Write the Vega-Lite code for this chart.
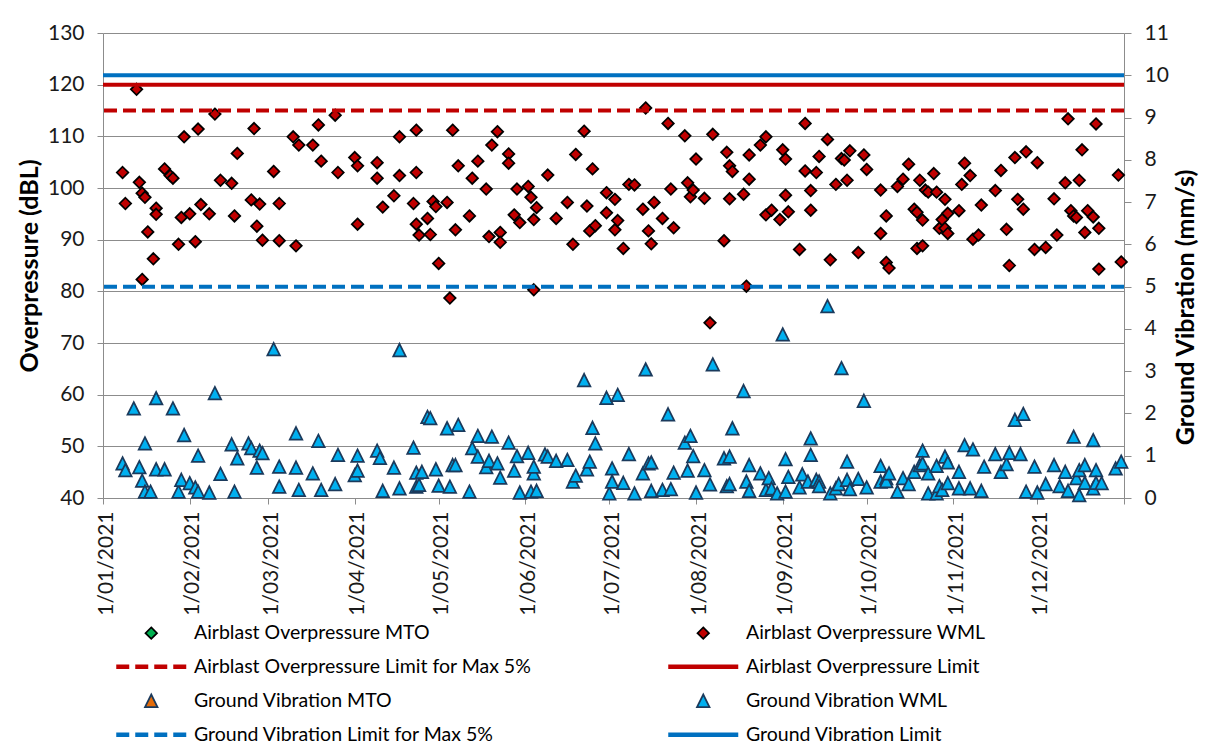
{
 "$schema": "https://vega.github.io/schema/vega-lite/v6.json",
 "width": 1021, "height": 465,
 "autosize": {"type": "none"},
 "padding": {"left": 103, "top": 33, "right": 81, "bottom": 248},
 "background": "white",
 "datasets": {
  "ao": [
   {"date":"2021-01-08","series":"Airblast Overpressure WML","value":103.0},
   {"date":"2021-01-09","series":"Airblast Overpressure WML","value":97.0},
   {"date":"2021-01-13","series":"Airblast Overpressure WML","value":119.1},
   {"date":"2021-01-14","series":"Airblast Overpressure WML","value":101.1},
   {"date":"2021-01-15","series":"Airblast Overpressure WML","value":82.3},
   {"date":"2021-01-15","series":"Airblast Overpressure WML","value":99.0},
   {"date":"2021-01-16","series":"Airblast Overpressure WML","value":98.2},
   {"date":"2021-01-17","series":"Airblast Overpressure WML","value":91.5},
   {"date":"2021-01-19","series":"Airblast Overpressure WML","value":86.3},
   {"date":"2021-01-20","series":"Airblast Overpressure WML","value":96.1},
   {"date":"2021-01-20","series":"Airblast Overpressure WML","value":94.9},
   {"date":"2021-01-23","series":"Airblast Overpressure WML","value":103.7},
   {"date":"2021-01-25","series":"Airblast Overpressure WML","value":102.4},
   {"date":"2021-01-26","series":"Airblast Overpressure WML","value":101.9},
   {"date":"2021-01-28","series":"Airblast Overpressure WML","value":89.1},
   {"date":"2021-01-29","series":"Airblast Overpressure WML","value":94.3},
   {"date":"2021-01-30","series":"Airblast Overpressure WML","value":109.9},
   {"date":"2021-02-01","series":"Airblast Overpressure WML","value":95.0},
   {"date":"2021-02-03","series":"Airblast Overpressure WML","value":89.6},
   {"date":"2021-02-04","series":"Airblast Overpressure WML","value":111.4},
   {"date":"2021-02-05","series":"Airblast Overpressure WML","value":96.8},
   {"date":"2021-02-08","series":"Airblast Overpressure WML","value":95.0},
   {"date":"2021-02-10","series":"Airblast Overpressure WML","value":114.3},
   {"date":"2021-02-12","series":"Airblast Overpressure WML","value":101.5},
   {"date":"2021-02-16","series":"Airblast Overpressure WML","value":100.9},
   {"date":"2021-02-17","series":"Airblast Overpressure WML","value":94.6},
   {"date":"2021-02-18","series":"Airblast Overpressure WML","value":106.7},
   {"date":"2021-02-23","series":"Airblast Overpressure WML","value":97.7},
   {"date":"2021-02-24","series":"Airblast Overpressure WML","value":111.5},
   {"date":"2021-02-25","series":"Airblast Overpressure WML","value":92.6},
   {"date":"2021-02-26","series":"Airblast Overpressure WML","value":96.9},
   {"date":"2021-02-27","series":"Airblast Overpressure WML","value":89.9},
   {"date":"2021-03-03","series":"Airblast Overpressure WML","value":103.2},
   {"date":"2021-03-05","series":"Airblast Overpressure WML","value":97.0},
   {"date":"2021-03-05","series":"Airblast Overpressure WML","value":89.8},
   {"date":"2021-03-10","series":"Airblast Overpressure WML","value":109.9},
   {"date":"2021-03-11","series":"Airblast Overpressure WML","value":88.8},
   {"date":"2021-03-12","series":"Airblast Overpressure WML","value":108.3},
   {"date":"2021-03-17","series":"Airblast Overpressure WML","value":108.3},
   {"date":"2021-03-19","series":"Airblast Overpressure WML","value":112.2},
   {"date":"2021-03-20","series":"Airblast Overpressure WML","value":105.2},
   {"date":"2021-03-25","series":"Airblast Overpressure WML","value":114.1},
   {"date":"2021-03-26","series":"Airblast Overpressure WML","value":103.0},
   {"date":"2021-04-01","series":"Airblast Overpressure WML","value":105.9},
   {"date":"2021-04-02","series":"Airblast Overpressure WML","value":104.3},
   {"date":"2021-04-02","series":"Airblast Overpressure WML","value":93.0},
   {"date":"2021-04-09","series":"Airblast Overpressure WML","value":104.9},
   {"date":"2021-04-09","series":"Airblast Overpressure WML","value":101.9},
   {"date":"2021-04-11","series":"Airblast Overpressure WML","value":96.3},
   {"date":"2021-04-15","series":"Airblast Overpressure WML","value":98.5},
   {"date":"2021-04-17","series":"Airblast Overpressure WML","value":109.9},
   {"date":"2021-04-17","series":"Airblast Overpressure WML","value":102.4},
   {"date":"2021-04-22","series":"Airblast Overpressure WML","value":97.0},
   {"date":"2021-04-23","series":"Airblast Overpressure WML","value":103.0},
   {"date":"2021-04-23","series":"Airblast Overpressure WML","value":111.2},
   {"date":"2021-04-23","series":"Airblast Overpressure WML","value":93.0},
   {"date":"2021-04-24","series":"Airblast Overpressure WML","value":90.9},
   {"date":"2021-04-27","series":"Airblast Overpressure WML","value":94.1},
   {"date":"2021-04-28","series":"Airblast Overpressure WML","value":91.0},
   {"date":"2021-04-29","series":"Airblast Overpressure WML","value":97.4},
   {"date":"2021-04-30","series":"Airblast Overpressure WML","value":96.4},
   {"date":"2021-05-01","series":"Airblast Overpressure WML","value":85.4},
   {"date":"2021-05-04","series":"Airblast Overpressure WML","value":97.2},
   {"date":"2021-05-05","series":"Airblast Overpressure WML","value":78.7},
   {"date":"2021-05-06","series":"Airblast Overpressure WML","value":111.2},
   {"date":"2021-05-07","series":"Airblast Overpressure WML","value":91.9},
   {"date":"2021-05-08","series":"Airblast Overpressure WML","value":104.3},
   {"date":"2021-05-12","series":"Airblast Overpressure WML","value":94.6},
   {"date":"2021-05-13","series":"Airblast Overpressure WML","value":101.9},
   {"date":"2021-05-15","series":"Airblast Overpressure WML","value":105.2},
   {"date":"2021-05-18","series":"Airblast Overpressure WML","value":99.8},
   {"date":"2021-05-19","series":"Airblast Overpressure WML","value":90.6},
   {"date":"2021-05-20","series":"Airblast Overpressure WML","value":108.3},
   {"date":"2021-05-22","series":"Airblast Overpressure WML","value":110.9},
   {"date":"2021-05-23","series":"Airblast Overpressure WML","value":91.4},
   {"date":"2021-05-23","series":"Airblast Overpressure WML","value":89.5},
   {"date":"2021-05-26","series":"Airblast Overpressure WML","value":106.6},
   {"date":"2021-05-26","series":"Airblast Overpressure WML","value":104.8},
   {"date":"2021-05-28","series":"Airblast Overpressure WML","value":94.8},
   {"date":"2021-05-29","series":"Airblast Overpressure WML","value":99.8},
   {"date":"2021-05-30","series":"Airblast Overpressure WML","value":93.3},
   {"date":"2021-06-02","series":"Airblast Overpressure WML","value":100.3},
   {"date":"2021-06-03","series":"Airblast Overpressure WML","value":98.2},
   {"date":"2021-06-04","series":"Airblast Overpressure WML","value":93.9},
   {"date":"2021-06-04","series":"Airblast Overpressure WML","value":80.3},
   {"date":"2021-06-05","series":"Airblast Overpressure WML","value":96.2},
   {"date":"2021-06-09","series":"Airblast Overpressure WML","value":102.5},
   {"date":"2021-06-12","series":"Airblast Overpressure WML","value":94.1},
   {"date":"2021-06-16","series":"Airblast Overpressure WML","value":97.2},
   {"date":"2021-06-18","series":"Airblast Overpressure WML","value":89.1},
   {"date":"2021-06-19","series":"Airblast Overpressure WML","value":106.5},
   {"date":"2021-06-22","series":"Airblast Overpressure WML","value":111.0},
   {"date":"2021-06-23","series":"Airblast Overpressure WML","value":96.5},
   {"date":"2021-06-24","series":"Airblast Overpressure WML","value":91.7},
   {"date":"2021-06-25","series":"Airblast Overpressure WML","value":103.7},
   {"date":"2021-06-26","series":"Airblast Overpressure WML","value":92.7},
   {"date":"2021-06-30","series":"Airblast Overpressure WML","value":95.2},
   {"date":"2021-06-30","series":"Airblast Overpressure WML","value":99.1},
   {"date":"2021-07-03","series":"Airblast Overpressure WML","value":97.8},
   {"date":"2021-07-03","series":"Airblast Overpressure WML","value":91.9},
   {"date":"2021-07-04","series":"Airblast Overpressure WML","value":93.7},
   {"date":"2021-07-06","series":"Airblast Overpressure WML","value":88.3},
   {"date":"2021-07-08","series":"Airblast Overpressure WML","value":100.7},
   {"date":"2021-07-10","series":"Airblast Overpressure WML","value":100.6},
   {"date":"2021-07-13","series":"Airblast Overpressure WML","value":95.9},
   {"date":"2021-07-14","series":"Airblast Overpressure WML","value":115.5},
   {"date":"2021-07-15","series":"Airblast Overpressure WML","value":91.7},
   {"date":"2021-07-16","series":"Airblast Overpressure WML","value":89.2},
   {"date":"2021-07-17","series":"Airblast Overpressure WML","value":97.2},
   {"date":"2021-07-20","series":"Airblast Overpressure WML","value":94.1},
   {"date":"2021-07-22","series":"Airblast Overpressure WML","value":112.5},
   {"date":"2021-07-23","series":"Airblast Overpressure WML","value":99.8},
   {"date":"2021-07-24","series":"Airblast Overpressure WML","value":92.3},
   {"date":"2021-07-28","series":"Airblast Overpressure WML","value":110.1},
   {"date":"2021-07-29","series":"Airblast Overpressure WML","value":101.0},
   {"date":"2021-07-30","series":"Airblast Overpressure WML","value":98.3},
   {"date":"2021-07-31","series":"Airblast Overpressure WML","value":99.6},
   {"date":"2021-08-01","series":"Airblast Overpressure WML","value":105.6},
   {"date":"2021-08-04","series":"Airblast Overpressure WML","value":98.0},
   {"date":"2021-08-06","series":"Airblast Overpressure WML","value":73.9},
   {"date":"2021-08-07","series":"Airblast Overpressure WML","value":110.4},
   {"date":"2021-08-11","series":"Airblast Overpressure WML","value":89.8},
   {"date":"2021-08-12","series":"Airblast Overpressure WML","value":106.9},
   {"date":"2021-08-13","series":"Airblast Overpressure WML","value":104.3},
   {"date":"2021-08-13","series":"Airblast Overpressure WML","value":97.9},
   {"date":"2021-08-14","series":"Airblast Overpressure WML","value":103.2},
   {"date":"2021-08-18","series":"Airblast Overpressure WML","value":98.8},
   {"date":"2021-08-19","series":"Airblast Overpressure WML","value":81.0},
   {"date":"2021-08-20","series":"Airblast Overpressure WML","value":106.4},
   {"date":"2021-08-20","series":"Airblast Overpressure WML","value":101.7},
   {"date":"2021-08-24","series":"Airblast Overpressure WML","value":108.3},
   {"date":"2021-08-26","series":"Airblast Overpressure WML","value":109.9},
   {"date":"2021-08-26","series":"Airblast Overpressure WML","value":94.8},
   {"date":"2021-08-28","series":"Airblast Overpressure WML","value":95.7},
   {"date":"2021-08-31","series":"Airblast Overpressure WML","value":93.9},
   {"date":"2021-09-01","series":"Airblast Overpressure WML","value":107.4},
   {"date":"2021-09-02","series":"Airblast Overpressure WML","value":105.6},
   {"date":"2021-09-02","series":"Airblast Overpressure WML","value":98.6},
   {"date":"2021-09-03","series":"Airblast Overpressure WML","value":95.4},
   {"date":"2021-09-07","series":"Airblast Overpressure WML","value":88.1},
   {"date":"2021-09-09","series":"Airblast Overpressure WML","value":112.5},
   {"date":"2021-09-09","series":"Airblast Overpressure WML","value":103.3},
   {"date":"2021-09-11","series":"Airblast Overpressure WML","value":99.5},
   {"date":"2021-09-11","series":"Airblast Overpressure WML","value":95.7},
   {"date":"2021-09-13","series":"Airblast Overpressure WML","value":103.0},
   {"date":"2021-09-14","series":"Airblast Overpressure WML","value":106.1},
   {"date":"2021-09-17","series":"Airblast Overpressure WML","value":109.4},
   {"date":"2021-09-18","series":"Airblast Overpressure WML","value":86.1},
   {"date":"2021-09-20","series":"Airblast Overpressure WML","value":100.7},
   {"date":"2021-09-22","series":"Airblast Overpressure WML","value":105.7},
   {"date":"2021-09-23","series":"Airblast Overpressure WML","value":105.4},
   {"date":"2021-09-24","series":"Airblast Overpressure WML","value":101.5},
   {"date":"2021-09-25","series":"Airblast Overpressure WML","value":107.2},
   {"date":"2021-09-28","series":"Airblast Overpressure WML","value":87.5},
   {"date":"2021-09-30","series":"Airblast Overpressure WML","value":106.4},
   {"date":"2021-10-01","series":"Airblast Overpressure WML","value":103.6},
   {"date":"2021-10-06","series":"Airblast Overpressure WML","value":91.2},
   {"date":"2021-10-06","series":"Airblast Overpressure WML","value":99.6},
   {"date":"2021-10-08","series":"Airblast Overpressure WML","value":94.6},
   {"date":"2021-10-08","series":"Airblast Overpressure WML","value":85.6},
   {"date":"2021-10-09","series":"Airblast Overpressure WML","value":84.5},
   {"date":"2021-10-12","series":"Airblast Overpressure WML","value":100.3},
   {"date":"2021-10-14","series":"Airblast Overpressure WML","value":101.7},
   {"date":"2021-10-16","series":"Airblast Overpressure WML","value":104.6},
   {"date":"2021-10-18","series":"Airblast Overpressure WML","value":95.9},
   {"date":"2021-10-19","series":"Airblast Overpressure WML","value":95.3},
   {"date":"2021-10-19","series":"Airblast Overpressure WML","value":88.3},
   {"date":"2021-10-20","series":"Airblast Overpressure WML","value":101.5},
   {"date":"2021-10-21","series":"Airblast Overpressure WML","value":93.8},
   {"date":"2021-10-21","series":"Airblast Overpressure WML","value":88.8},
   {"date":"2021-10-22","series":"Airblast Overpressure WML","value":99.6},
   {"date":"2021-10-23","series":"Airblast Overpressure WML","value":99.2},
   {"date":"2021-10-25","series":"Airblast Overpressure WML","value":102.8},
   {"date":"2021-10-26","series":"Airblast Overpressure WML","value":99.2},
   {"date":"2021-10-27","series":"Airblast Overpressure WML","value":92.2},
   {"date":"2021-10-28","series":"Airblast Overpressure WML","value":93.9},
   {"date":"2021-10-29","series":"Airblast Overpressure WML","value":97.8},
   {"date":"2021-10-29","series":"Airblast Overpressure WML","value":92.2},
   {"date":"2021-10-30","series":"Airblast Overpressure WML","value":91.2},
   {"date":"2021-10-30","series":"Airblast Overpressure WML","value":95.1},
   {"date":"2021-11-03","series":"Airblast Overpressure WML","value":95.6},
   {"date":"2021-11-04","series":"Airblast Overpressure WML","value":100.7},
   {"date":"2021-11-05","series":"Airblast Overpressure WML","value":104.8},
   {"date":"2021-11-07","series":"Airblast Overpressure WML","value":102.4},
   {"date":"2021-11-08","series":"Airblast Overpressure WML","value":90.1},
   {"date":"2021-11-10","series":"Airblast Overpressure WML","value":90.9},
   {"date":"2021-11-11","series":"Airblast Overpressure WML","value":96.7},
   {"date":"2021-11-16","series":"Airblast Overpressure WML","value":99.5},
   {"date":"2021-11-18","series":"Airblast Overpressure WML","value":103.4},
   {"date":"2021-11-20","series":"Airblast Overpressure WML","value":92.0},
   {"date":"2021-11-21","series":"Airblast Overpressure WML","value":85.0},
   {"date":"2021-11-23","series":"Airblast Overpressure WML","value":105.9},
   {"date":"2021-11-24","series":"Airblast Overpressure WML","value":97.8},
   {"date":"2021-11-26","series":"Airblast Overpressure WML","value":95.9},
   {"date":"2021-11-27","series":"Airblast Overpressure WML","value":107.0},
   {"date":"2021-11-30","series":"Airblast Overpressure WML","value":88.1},
   {"date":"2021-12-01","series":"Airblast Overpressure WML","value":104.9},
   {"date":"2021-12-04","series":"Airblast Overpressure WML","value":88.5},
   {"date":"2021-12-07","series":"Airblast Overpressure WML","value":97.9},
   {"date":"2021-12-08","series":"Airblast Overpressure WML","value":90.9},
   {"date":"2021-12-11","series":"Airblast Overpressure WML","value":101.0},
   {"date":"2021-12-12","series":"Airblast Overpressure WML","value":113.4},
   {"date":"2021-12-13","series":"Airblast Overpressure WML","value":95.6},
   {"date":"2021-12-14","series":"Airblast Overpressure WML","value":94.6},
   {"date":"2021-12-15","series":"Airblast Overpressure WML","value":94.3},
   {"date":"2021-12-16","series":"Airblast Overpressure WML","value":101.5},
   {"date":"2021-12-17","series":"Airblast Overpressure WML","value":107.4},
   {"date":"2021-12-18","series":"Airblast Overpressure WML","value":91.4},
   {"date":"2021-12-19","series":"Airblast Overpressure WML","value":95.6},
   {"date":"2021-12-21","series":"Airblast Overpressure WML","value":94.4},
   {"date":"2021-12-22","series":"Airblast Overpressure WML","value":112.4},
   {"date":"2021-12-23","series":"Airblast Overpressure WML","value":84.3},
   {"date":"2021-12-23","series":"Airblast Overpressure WML","value":92.2},
   {"date":"2021-12-30","series":"Airblast Overpressure WML","value":102.5},
   {"date":"2021-12-31","series":"Airblast Overpressure WML","value":85.7}
  ],
  "gv": [
   {"date":"2021-01-08","series":"Ground Vibration WML","value":0.82},
   {"date":"2021-01-09","series":"Ground Vibration WML","value":0.66},
   {"date":"2021-01-12","series":"Ground Vibration WML","value":2.12},
   {"date":"2021-01-14","series":"Ground Vibration WML","value":0.73},
   {"date":"2021-01-15","series":"Ground Vibration WML","value":0.41},
   {"date":"2021-01-16","series":"Ground Vibration WML","value":1.29},
   {"date":"2021-01-16","series":"Ground Vibration WML","value":0.15},
   {"date":"2021-01-18","series":"Ground Vibration WML","value":0.15},
   {"date":"2021-01-20","series":"Ground Vibration WML","value":2.36},
   {"date":"2021-01-20","series":"Ground Vibration WML","value":0.68},
   {"date":"2021-01-23","series":"Ground Vibration WML","value":0.68},
   {"date":"2021-01-26","series":"Ground Vibration WML","value":2.12},
   {"date":"2021-01-28","series":"Ground Vibration WML","value":0.15},
   {"date":"2021-01-29","series":"Ground Vibration WML","value":0.43},
   {"date":"2021-01-30","series":"Ground Vibration WML","value":1.49},
   {"date":"2021-02-01","series":"Ground Vibration WML","value":0.35},
   {"date":"2021-02-03","series":"Ground Vibration WML","value":0.25},
   {"date":"2021-02-04","series":"Ground Vibration WML","value":1.00},
   {"date":"2021-02-04","series":"Ground Vibration WML","value":0.15},
   {"date":"2021-02-08","series":"Ground Vibration WML","value":0.13},
   {"date":"2021-02-10","series":"Ground Vibration WML","value":2.48},
   {"date":"2021-02-12","series":"Ground Vibration WML","value":0.57},
   {"date":"2021-02-16","series":"Ground Vibration WML","value":1.27},
   {"date":"2021-02-17","series":"Ground Vibration WML","value":0.15},
   {"date":"2021-02-18","series":"Ground Vibration WML","value":0.94},
   {"date":"2021-02-22","series":"Ground Vibration WML","value":1.29},
   {"date":"2021-02-23","series":"Ground Vibration WML","value":1.18},
   {"date":"2021-02-25","series":"Ground Vibration WML","value":0.72},
   {"date":"2021-02-26","series":"Ground Vibration WML","value":1.12},
   {"date":"2021-02-27","series":"Ground Vibration WML","value":1.06},
   {"date":"2021-03-03","series":"Ground Vibration WML","value":3.52},
   {"date":"2021-03-05","series":"Ground Vibration WML","value":0.74},
   {"date":"2021-03-05","series":"Ground Vibration WML","value":0.27},
   {"date":"2021-03-11","series":"Ground Vibration WML","value":1.53},
   {"date":"2021-03-11","series":"Ground Vibration WML","value":0.72},
   {"date":"2021-03-12","series":"Ground Vibration WML","value":0.19},
   {"date":"2021-03-17","series":"Ground Vibration WML","value":0.58},
   {"date":"2021-03-19","series":"Ground Vibration WML","value":1.35},
   {"date":"2021-03-20","series":"Ground Vibration WML","value":0.19},
   {"date":"2021-03-25","series":"Ground Vibration WML","value":0.33},
   {"date":"2021-03-26","series":"Ground Vibration WML","value":1.02},
   {"date":"2021-04-01","series":"Ground Vibration WML","value":0.54},
   {"date":"2021-04-02","series":"Ground Vibration WML","value":1.00},
   {"date":"2021-04-02","series":"Ground Vibration WML","value":0.65},
   {"date":"2021-04-09","series":"Ground Vibration WML","value":1.12},
   {"date":"2021-04-10","series":"Ground Vibration WML","value":0.95},
   {"date":"2021-04-11","series":"Ground Vibration WML","value":0.17},
   {"date":"2021-04-15","series":"Ground Vibration WML","value":0.72},
   {"date":"2021-04-17","series":"Ground Vibration WML","value":3.50},
   {"date":"2021-04-17","series":"Ground Vibration WML","value":0.23},
   {"date":"2021-04-22","series":"Ground Vibration WML","value":1.19},
   {"date":"2021-04-23","series":"Ground Vibration WML","value":0.27},
   {"date":"2021-04-23","series":"Ground Vibration WML","value":0.60},
   {"date":"2021-04-24","series":"Ground Vibration WML","value":0.31},
   {"date":"2021-04-25","series":"Ground Vibration WML","value":0.62},
   {"date":"2021-04-27","series":"Ground Vibration WML","value":1.92},
   {"date":"2021-04-28","series":"Ground Vibration WML","value":1.89},
   {"date":"2021-04-30","series":"Ground Vibration WML","value":0.68},
   {"date":"2021-05-01","series":"Ground Vibration WML","value":0.29},
   {"date":"2021-05-04","series":"Ground Vibration WML","value":1.65},
   {"date":"2021-05-05","series":"Ground Vibration WML","value":0.27},
   {"date":"2021-05-06","series":"Ground Vibration WML","value":0.78},
   {"date":"2021-05-07","series":"Ground Vibration WML","value":0.78},
   {"date":"2021-05-08","series":"Ground Vibration WML","value":1.73},
   {"date":"2021-05-12","series":"Ground Vibration WML","value":0.15},
   {"date":"2021-05-13","series":"Ground Vibration WML","value":1.18},
   {"date":"2021-05-15","series":"Ground Vibration WML","value":1.47},
   {"date":"2021-05-15","series":"Ground Vibration WML","value":0.98},
   {"date":"2021-05-18","series":"Ground Vibration WML","value":0.73},
   {"date":"2021-05-19","series":"Ground Vibration WML","value":0.88},
   {"date":"2021-05-20","series":"Ground Vibration WML","value":1.45},
   {"date":"2021-05-22","series":"Ground Vibration WML","value":0.82},
   {"date":"2021-05-23","series":"Ground Vibration WML","value":0.48},
   {"date":"2021-05-26","series":"Ground Vibration WML","value":1.31},
   {"date":"2021-05-28","series":"Ground Vibration WML","value":0.65},
   {"date":"2021-05-29","series":"Ground Vibration WML","value":0.99},
   {"date":"2021-05-30","series":"Ground Vibration WML","value":0.13},
   {"date":"2021-06-02","series":"Ground Vibration WML","value":1.07},
   {"date":"2021-06-03","series":"Ground Vibration WML","value":0.15},
   {"date":"2021-06-04","series":"Ground Vibration WML","value":0.58},
   {"date":"2021-06-04","series":"Ground Vibration WML","value":0.74},
   {"date":"2021-06-05","series":"Ground Vibration WML","value":0.17},
   {"date":"2021-06-08","series":"Ground Vibration WML","value":1.03},
   {"date":"2021-06-09","series":"Ground Vibration WML","value":0.98},
   {"date":"2021-06-12","series":"Ground Vibration WML","value":0.88},
   {"date":"2021-06-16","series":"Ground Vibration WML","value":0.90},
   {"date":"2021-06-18","series":"Ground Vibration WML","value":0.39},
   {"date":"2021-06-19","series":"Ground Vibration WML","value":0.53},
   {"date":"2021-06-22","series":"Ground Vibration WML","value":2.79},
   {"date":"2021-06-23","series":"Ground Vibration WML","value":0.68},
   {"date":"2021-06-24","series":"Ground Vibration WML","value":0.86},
   {"date":"2021-06-25","series":"Ground Vibration WML","value":1.66},
   {"date":"2021-06-26","series":"Ground Vibration WML","value":1.29},
   {"date":"2021-06-30","series":"Ground Vibration WML","value":2.37},
   {"date":"2021-07-01","series":"Ground Vibration WML","value":0.11},
   {"date":"2021-07-02","series":"Ground Vibration WML","value":0.70},
   {"date":"2021-07-02","series":"Ground Vibration WML","value":0.39},
   {"date":"2021-07-04","series":"Ground Vibration WML","value":2.44},
   {"date":"2021-07-06","series":"Ground Vibration WML","value":0.36},
   {"date":"2021-07-08","series":"Ground Vibration WML","value":1.04},
   {"date":"2021-07-10","series":"Ground Vibration WML","value":0.11},
   {"date":"2021-07-13","series":"Ground Vibration WML","value":0.58},
   {"date":"2021-07-14","series":"Ground Vibration WML","value":3.04},
   {"date":"2021-07-15","series":"Ground Vibration WML","value":0.82},
   {"date":"2021-07-16","series":"Ground Vibration WML","value":0.84},
   {"date":"2021-07-16","series":"Ground Vibration WML","value":0.17},
   {"date":"2021-07-20","series":"Ground Vibration WML","value":0.19},
   {"date":"2021-07-22","series":"Ground Vibration WML","value":1.98},
   {"date":"2021-07-23","series":"Ground Vibration WML","value":0.21},
   {"date":"2021-07-24","series":"Ground Vibration WML","value":0.60},
   {"date":"2021-07-28","series":"Ground Vibration WML","value":1.31},
   {"date":"2021-07-29","series":"Ground Vibration WML","value":0.65},
   {"date":"2021-07-30","series":"Ground Vibration WML","value":1.47},
   {"date":"2021-07-31","series":"Ground Vibration WML","value":0.99},
   {"date":"2021-08-01","series":"Ground Vibration WML","value":0.13},
   {"date":"2021-08-04","series":"Ground Vibration WML","value":0.66},
   {"date":"2021-08-06","series":"Ground Vibration WML","value":0.32},
   {"date":"2021-08-07","series":"Ground Vibration WML","value":3.16},
   {"date":"2021-08-11","series":"Ground Vibration WML","value":0.94},
   {"date":"2021-08-12","series":"Ground Vibration WML","value":0.28},
   {"date":"2021-08-13","series":"Ground Vibration WML","value":0.33},
   {"date":"2021-08-13","series":"Ground Vibration WML","value":0.98},
   {"date":"2021-08-14","series":"Ground Vibration WML","value":1.65},
   {"date":"2021-08-18","series":"Ground Vibration WML","value":2.53},
   {"date":"2021-08-19","series":"Ground Vibration WML","value":0.39},
   {"date":"2021-08-20","series":"Ground Vibration WML","value":0.78},
   {"date":"2021-08-20","series":"Ground Vibration WML","value":0.17},
   {"date":"2021-08-24","series":"Ground Vibration WML","value":0.58},
   {"date":"2021-08-26","series":"Ground Vibration WML","value":0.19},
   {"date":"2021-08-27","series":"Ground Vibration WML","value":0.47},
   {"date":"2021-08-28","series":"Ground Vibration WML","value":0.23},
   {"date":"2021-08-30","series":"Ground Vibration WML","value":0.11},
   {"date":"2021-09-01","series":"Ground Vibration WML","value":3.87},
   {"date":"2021-09-02","series":"Ground Vibration WML","value":0.15},
   {"date":"2021-09-02","series":"Ground Vibration WML","value":0.92},
   {"date":"2021-09-03","series":"Ground Vibration WML","value":0.50},
   {"date":"2021-09-07","series":"Ground Vibration WML","value":0.25},
   {"date":"2021-09-08","series":"Ground Vibration WML","value":0.56},
   {"date":"2021-09-10","series":"Ground Vibration WML","value":0.39},
   {"date":"2021-09-11","series":"Ground Vibration WML","value":1.41},
   {"date":"2021-09-11","series":"Ground Vibration WML","value":1.02},
   {"date":"2021-09-13","series":"Ground Vibration WML","value":0.43},
   {"date":"2021-09-14","series":"Ground Vibration WML","value":0.39},
   {"date":"2021-09-14","series":"Ground Vibration WML","value":0.28},
   {"date":"2021-09-17","series":"Ground Vibration WML","value":4.54},
   {"date":"2021-09-18","series":"Ground Vibration WML","value":0.11},
   {"date":"2021-09-20","series":"Ground Vibration WML","value":0.23},
   {"date":"2021-09-21","series":"Ground Vibration WML","value":0.33},
   {"date":"2021-09-22","series":"Ground Vibration WML","value":3.07},
   {"date":"2021-09-24","series":"Ground Vibration WML","value":0.43},
   {"date":"2021-09-24","series":"Ground Vibration WML","value":0.86},
   {"date":"2021-09-25","series":"Ground Vibration WML","value":0.21},
   {"date":"2021-09-28","series":"Ground Vibration WML","value":0.45},
   {"date":"2021-09-30","series":"Ground Vibration WML","value":2.30},
   {"date":"2021-10-01","series":"Ground Vibration WML","value":0.25},
   {"date":"2021-10-06","series":"Ground Vibration WML","value":0.39},
   {"date":"2021-10-06","series":"Ground Vibration WML","value":0.76},
   {"date":"2021-10-08","series":"Ground Vibration WML","value":0.47},
   {"date":"2021-10-08","series":"Ground Vibration WML","value":0.40},
   {"date":"2021-10-09","series":"Ground Vibration WML","value":0.58},
   {"date":"2021-10-12","series":"Ground Vibration WML","value":0.15},
   {"date":"2021-10-14","series":"Ground Vibration WML","value":0.47},
   {"date":"2021-10-16","series":"Ground Vibration WML","value":0.33},
   {"date":"2021-10-18","series":"Ground Vibration WML","value":0.62},
   {"date":"2021-10-20","series":"Ground Vibration WML","value":0.78},
   {"date":"2021-10-21","series":"Ground Vibration WML","value":1.12},
   {"date":"2021-10-21","series":"Ground Vibration WML","value":0.82},
   {"date":"2021-10-23","series":"Ground Vibration WML","value":0.58},
   {"date":"2021-10-23","series":"Ground Vibration WML","value":0.11},
   {"date":"2021-10-26","series":"Ground Vibration WML","value":0.76},
   {"date":"2021-10-26","series":"Ground Vibration WML","value":0.11},
   {"date":"2021-10-27","series":"Ground Vibration WML","value":0.28},
   {"date":"2021-10-28","series":"Ground Vibration WML","value":0.19},
   {"date":"2021-10-29","series":"Ground Vibration WML","value":0.98},
   {"date":"2021-10-30","series":"Ground Vibration WML","value":0.84},
   {"date":"2021-10-30","series":"Ground Vibration WML","value":0.35},
   {"date":"2021-11-03","series":"Ground Vibration WML","value":0.62},
   {"date":"2021-11-03","series":"Ground Vibration WML","value":0.23},
   {"date":"2021-11-05","series":"Ground Vibration WML","value":1.25},
   {"date":"2021-11-07","series":"Ground Vibration WML","value":0.23},
   {"date":"2021-11-08","series":"Ground Vibration WML","value":1.15},
   {"date":"2021-11-11","series":"Ground Vibration WML","value":0.17},
   {"date":"2021-11-12","series":"Ground Vibration WML","value":0.74},
   {"date":"2021-11-16","series":"Ground Vibration WML","value":1.04},
   {"date":"2021-11-18","series":"Ground Vibration WML","value":0.62},
   {"date":"2021-11-20","series":"Ground Vibration WML","value":0.80},
   {"date":"2021-11-21","series":"Ground Vibration WML","value":1.07},
   {"date":"2021-11-23","series":"Ground Vibration WML","value":1.85},
   {"date":"2021-11-25","series":"Ground Vibration WML","value":1.04},
   {"date":"2021-11-26","series":"Ground Vibration WML","value":1.99},
   {"date":"2021-11-27","series":"Ground Vibration WML","value":0.15},
   {"date":"2021-11-30","series":"Ground Vibration WML","value":0.74},
   {"date":"2021-12-01","series":"Ground Vibration WML","value":0.13},
   {"date":"2021-12-04","series":"Ground Vibration WML","value":0.33},
   {"date":"2021-12-07","series":"Ground Vibration WML","value":0.78},
   {"date":"2021-12-09","series":"Ground Vibration WML","value":0.28},
   {"date":"2021-12-11","series":"Ground Vibration WML","value":0.62},
   {"date":"2021-12-12","series":"Ground Vibration WML","value":0.17},
   {"date":"2021-12-14","series":"Ground Vibration WML","value":1.45},
   {"date":"2021-12-15","series":"Ground Vibration WML","value":0.47},
   {"date":"2021-12-16","series":"Ground Vibration WML","value":0.07},
   {"date":"2021-12-16","series":"Ground Vibration WML","value":0.66},
   {"date":"2021-12-18","series":"Ground Vibration WML","value":0.78},
   {"date":"2021-12-18","series":"Ground Vibration WML","value":0.36},
   {"date":"2021-12-21","series":"Ground Vibration WML","value":1.37},
   {"date":"2021-12-21","series":"Ground Vibration WML","value":0.23},
   {"date":"2021-12-22","series":"Ground Vibration WML","value":0.66},
   {"date":"2021-12-22","series":"Ground Vibration WML","value":0.36},
   {"date":"2021-12-24","series":"Ground Vibration WML","value":0.35},
   {"date":"2021-12-29","series":"Ground Vibration WML","value":0.70},
   {"date":"2021-12-31","series":"Ground Vibration WML","value":0.86}
  ],
  "aolim": [
   {"series":"Airblast Overpressure Limit for Max 5%","value":115},
   {"series":"Airblast Overpressure Limit","value":120}
  ],
  "gvlim": [
   {"series":"Ground Vibration Limit for Max 5%","value":5},
   {"series":"Ground Vibration Limit","value":10}
  ]
 },
 "layer": [
  {
   "encoding": {
    "y": {"field": "value", "type": "quantitative",
     "scale": {"domain": [40, 130], "nice": false, "zero": false},
     "axis": {"orient": "left", "values": [40,50,60,70,80,90,100,110,120,130], "grid": true, "tickSize": 6, "labelPadding": 13, "title": "Overpressure (dBL)", "titlePadding": 5}}
   },
   "layer": [
    {
     "data": {"name": "ao"},
     "mark": {"type": "point", "filled": true, "size": 4, "strokeWidth": 1.75, "opacity": 1},
     "encoding": {
      "x": {"field": "date", "type": "temporal",
       "scale": {"type": "utc", "domain": [{"year": 2021, "month": 1, "date": 1, "utc": true}, {"year": 2022, "month": 1, "date": 1, "utc": true}]},
       "axis": {"title": null, "grid": false, "values": [{"year":2021,"month":1,"date":1,"utc":true},{"year":2021,"month":2,"date":1,"utc":true},{"year":2021,"month":3,"date":1,"utc":true},{"year":2021,"month":4,"date":1,"utc":true},{"year":2021,"month":5,"date":1,"utc":true},{"year":2021,"month":6,"date":1,"utc":true},{"year":2021,"month":7,"date":1,"utc":true},{"year":2021,"month":8,"date":1,"utc":true},{"year":2021,"month":9,"date":1,"utc":true},{"year":2021,"month":10,"date":1,"utc":true},{"year":2021,"month":11,"date":1,"utc":true},{"year":2021,"month":12,"date":1,"utc":true},{"year":2022,"month":1,"date":1,"utc":true}],
        "labelExpr": "utcyear(datum.value) > 2021 ? '' : utcFormat(datum.value, '%-d/%m/%Y')",
        "labelAngle": 270, "labelAlign": "right", "labelBaseline": "middle", "labelPadding": 7, "labelOffset": 3, "tickSize": 6, "labelFlush": false, "labelOverlap": false, "labelBound": false}},
      "fill": {"field": "series", "type": "nominal",
       "scale": {"domain": ["Airblast Overpressure MTO","Airblast Overpressure WML","Airblast Overpressure Limit for Max 5%","Airblast Overpressure Limit","Ground Vibration MTO","Ground Vibration WML","Ground Vibration Limit for Max 5%","Ground Vibration Limit"],
        "range": ["#00B050","#C00000","#C00000","#C00000","#E46C0A","#00B0F0","#0070C0","#0070C0"]},
       "legend": {"title": null, "legendX": 38.5, "legendY": 590}},
      "stroke": {"field": "series", "type": "nominal",
       "scale": {"domain": ["Airblast Overpressure MTO","Airblast Overpressure WML","Airblast Overpressure Limit for Max 5%","Airblast Overpressure Limit","Ground Vibration MTO","Ground Vibration WML","Ground Vibration Limit for Max 5%","Ground Vibration Limit"],
        "range": ["#000000","#000000","#C00000","#C00000","#1B3A5C","#1B3A5C","#0070C0","#0070C0"]},
       "legend": {"title": null}},
      "shape": {"field": "series", "type": "nominal",
       "scale": {"domain": ["Airblast Overpressure MTO","Airblast Overpressure WML","Airblast Overpressure Limit for Max 5%","Airblast Overpressure Limit","Ground Vibration MTO","Ground Vibration WML","Ground Vibration Limit for Max 5%","Ground Vibration Limit"],
        "range": [
         "M-34.125,0M34.125,0M0,-5.75L5.75,0L0,5.75L-5.75,0Z",
         "M-34.125,0M34.125,0M0,-5.75L5.75,0L0,5.75L-5.75,0Z",
         "M-34.125,-1.375L-22.875,-1.375L-22.875,1.375L-34.125,1.375Z M-15.125,-1.375L-3.875,-1.375L-3.875,1.375L-15.125,1.375Z M3.875,-1.375L15.125,-1.375L15.125,1.375L3.875,1.375Z M22.875,-1.375L34.125,-1.375L34.125,1.375L22.875,1.375Z",
         "M-34.125,-1.375L34.125,-1.375L34.125,1.375L-34.125,1.375Z",
         "M-34.125,0M34.125,0M0,-6.25L6.25,6.25L-6.25,6.25Z",
         "M-34.125,0M34.125,0M0,-6.25L6.25,6.25L-6.25,6.25Z",
         "M-34.125,-1.375L-22.875,-1.375L-22.875,1.375L-34.125,1.375Z M-15.125,-1.375L-3.875,-1.375L-3.875,1.375L-15.125,1.375Z M3.875,-1.375L15.125,-1.375L15.125,1.375L3.875,1.375Z M22.875,-1.375L34.125,-1.375L34.125,1.375L22.875,1.375Z",
         "M-34.125,-1.375L34.125,-1.375L34.125,1.375L-34.125,1.375Z"]},
       "legend": {"title": null}}
     }
    },
    {
     "data": {"name": "aolim"},
     "transform": [{"filter": {"field": "series", "equal": "Airblast Overpressure Limit for Max 5%"}}],
     "mark": {"type": "rule", "strokeWidth": 4, "strokeDash": [13, 6]},
     "encoding": {
      "stroke": {"field": "series", "type": "nominal",
       "scale": {"domain": ["Airblast Overpressure MTO","Airblast Overpressure WML","Airblast Overpressure Limit for Max 5%","Airblast Overpressure Limit","Ground Vibration MTO","Ground Vibration WML","Ground Vibration Limit for Max 5%","Ground Vibration Limit"],
        "range": ["#000000","#000000","#C00000","#C00000","#1B3A5C","#1B3A5C","#0070C0","#0070C0"]},
       "legend": {"title": null}}
     }
    },
    {
     "data": {"name": "aolim"},
     "transform": [{"filter": {"field": "series", "equal": "Airblast Overpressure Limit"}}],
     "mark": {"type": "rule", "strokeWidth": 4},
     "encoding": {
      "stroke": {"field": "series", "type": "nominal",
       "scale": {"domain": ["Airblast Overpressure MTO","Airblast Overpressure WML","Airblast Overpressure Limit for Max 5%","Airblast Overpressure Limit","Ground Vibration MTO","Ground Vibration WML","Ground Vibration Limit for Max 5%","Ground Vibration Limit"],
        "range": ["#000000","#000000","#C00000","#C00000","#1B3A5C","#1B3A5C","#0070C0","#0070C0"]},
       "legend": {"title": null}}
     }
    }
   ]
  },
  {
   "encoding": {
    "y": {"field": "value", "type": "quantitative",
     "scale": {"domain": [0, 11], "nice": false, "zero": false},
     "axis": {"orient": "right", "values": [0,1,2,3,4,5,6,7,8,9,10,11], "grid": false, "tickSize": 7, "labelPadding": 13, "title": "Ground Vibration (mm/s)", "titleAngle": 270, "titleBaseline": "top", "titlePadding": 5, "titleY": 274}}
   },
   "layer": [
    {
     "data": {"name": "gv"},
     "mark": {"type": "point", "filled": true, "size": 4, "strokeWidth": 1.75, "opacity": 1},
     "encoding": {
      "x": {"field": "date", "type": "temporal",
       "scale": {"type": "utc", "domain": [{"year": 2021, "month": 1, "date": 1, "utc": true}, {"year": 2022, "month": 1, "date": 1, "utc": true}]},
       "axis": {"title": null, "grid": false, "values": [{"year":2021,"month":1,"date":1,"utc":true},{"year":2021,"month":2,"date":1,"utc":true},{"year":2021,"month":3,"date":1,"utc":true},{"year":2021,"month":4,"date":1,"utc":true},{"year":2021,"month":5,"date":1,"utc":true},{"year":2021,"month":6,"date":1,"utc":true},{"year":2021,"month":7,"date":1,"utc":true},{"year":2021,"month":8,"date":1,"utc":true},{"year":2021,"month":9,"date":1,"utc":true},{"year":2021,"month":10,"date":1,"utc":true},{"year":2021,"month":11,"date":1,"utc":true},{"year":2021,"month":12,"date":1,"utc":true},{"year":2022,"month":1,"date":1,"utc":true}],
        "labelExpr": "utcyear(datum.value) > 2021 ? '' : utcFormat(datum.value, '%-d/%m/%Y')",
        "labelAngle": 270, "labelAlign": "right", "labelBaseline": "middle", "labelPadding": 7, "labelOffset": 3, "tickSize": 6, "labelFlush": false, "labelOverlap": false, "labelBound": false}},
      "fill": {"field": "series", "type": "nominal",
       "scale": {"domain": ["Airblast Overpressure MTO","Airblast Overpressure WML","Airblast Overpressure Limit for Max 5%","Airblast Overpressure Limit","Ground Vibration MTO","Ground Vibration WML","Ground Vibration Limit for Max 5%","Ground Vibration Limit"],
        "range": ["#00B050","#C00000","#C00000","#C00000","#E46C0A","#00B0F0","#0070C0","#0070C0"]},
       "legend": {"title": null, "legendX": 38.5, "legendY": 590}},
      "stroke": {"field": "series", "type": "nominal",
       "scale": {"domain": ["Airblast Overpressure MTO","Airblast Overpressure WML","Airblast Overpressure Limit for Max 5%","Airblast Overpressure Limit","Ground Vibration MTO","Ground Vibration WML","Ground Vibration Limit for Max 5%","Ground Vibration Limit"],
        "range": ["#000000","#000000","#C00000","#C00000","#1B3A5C","#1B3A5C","#0070C0","#0070C0"]},
       "legend": {"title": null}},
      "shape": {"field": "series", "type": "nominal",
       "scale": {"domain": ["Airblast Overpressure MTO","Airblast Overpressure WML","Airblast Overpressure Limit for Max 5%","Airblast Overpressure Limit","Ground Vibration MTO","Ground Vibration WML","Ground Vibration Limit for Max 5%","Ground Vibration Limit"],
        "range": [
         "M-34.125,0M34.125,0M0,-5.75L5.75,0L0,5.75L-5.75,0Z",
         "M-34.125,0M34.125,0M0,-5.75L5.75,0L0,5.75L-5.75,0Z",
         "M-34.125,-1.375L-22.875,-1.375L-22.875,1.375L-34.125,1.375Z M-15.125,-1.375L-3.875,-1.375L-3.875,1.375L-15.125,1.375Z M3.875,-1.375L15.125,-1.375L15.125,1.375L3.875,1.375Z M22.875,-1.375L34.125,-1.375L34.125,1.375L22.875,1.375Z",
         "M-34.125,-1.375L34.125,-1.375L34.125,1.375L-34.125,1.375Z",
         "M-34.125,0M34.125,0M0,-6.25L6.25,6.25L-6.25,6.25Z",
         "M-34.125,0M34.125,0M0,-6.25L6.25,6.25L-6.25,6.25Z",
         "M-34.125,-1.375L-22.875,-1.375L-22.875,1.375L-34.125,1.375Z M-15.125,-1.375L-3.875,-1.375L-3.875,1.375L-15.125,1.375Z M3.875,-1.375L15.125,-1.375L15.125,1.375L3.875,1.375Z M22.875,-1.375L34.125,-1.375L34.125,1.375L22.875,1.375Z",
         "M-34.125,-1.375L34.125,-1.375L34.125,1.375L-34.125,1.375Z"]},
       "legend": {"title": null}}
     }
    },
    {
     "data": {"name": "gvlim"},
     "transform": [{"filter": {"field": "series", "equal": "Ground Vibration Limit for Max 5%"}}],
     "mark": {"type": "rule", "strokeWidth": 4, "strokeDash": [13, 6]},
     "encoding": {
      "stroke": {"field": "series", "type": "nominal",
       "scale": {"domain": ["Airblast Overpressure MTO","Airblast Overpressure WML","Airblast Overpressure Limit for Max 5%","Airblast Overpressure Limit","Ground Vibration MTO","Ground Vibration WML","Ground Vibration Limit for Max 5%","Ground Vibration Limit"],
        "range": ["#000000","#000000","#C00000","#C00000","#1B3A5C","#1B3A5C","#0070C0","#0070C0"]},
       "legend": {"title": null}}
     }
    },
    {
     "data": {"name": "gvlim"},
     "transform": [{"filter": {"field": "series", "equal": "Ground Vibration Limit"}}],
     "mark": {"type": "rule", "strokeWidth": 4},
     "encoding": {
      "stroke": {"field": "series", "type": "nominal",
       "scale": {"domain": ["Airblast Overpressure MTO","Airblast Overpressure WML","Airblast Overpressure Limit for Max 5%","Airblast Overpressure Limit","Ground Vibration MTO","Ground Vibration WML","Ground Vibration Limit for Max 5%","Ground Vibration Limit"],
        "range": ["#000000","#000000","#C00000","#C00000","#1B3A5C","#1B3A5C","#0070C0","#0070C0"]},
       "legend": {"title": null}}
     }
    }
   ]
  }
 ],
 "resolve": {"scale": {"y": "independent"}, "axis": {"y": "independent"}},
 "config": {
  "font": "Lato",
  "view": {"stroke": null},
  "axis": {"labelFont": "Lato", "labelFontSize": 21, "labelColor": "#1a1a1a", "titleFont": "Lato", "titleFontSize": 25, "titleFontWeight": "bold", "titleColor": "#000000", "domainColor": "#8c8c8c", "tickColor": "#8c8c8c", "gridColor": "#8c8c8c", "domainWidth": 1, "tickWidth": 1, "gridWidth": 1},
  "legend": {"orient": "none", "direction": "horizontal", "columns": 2, "columnPadding": 134, "rowPadding": 13, "labelOffset": 33, "symbolSize": 4, "symbolStrokeWidth": 1.75, "symbolFillColor": "transparent", "symbolStrokeColor": "transparent", "symbolOpacity": 1, "labelFont": "Lato", "labelFontSize": 19.5, "labelColor": "#000000", "labelLimit": 0, "padding": 0, "gridAlign": "each"}
 }
}
